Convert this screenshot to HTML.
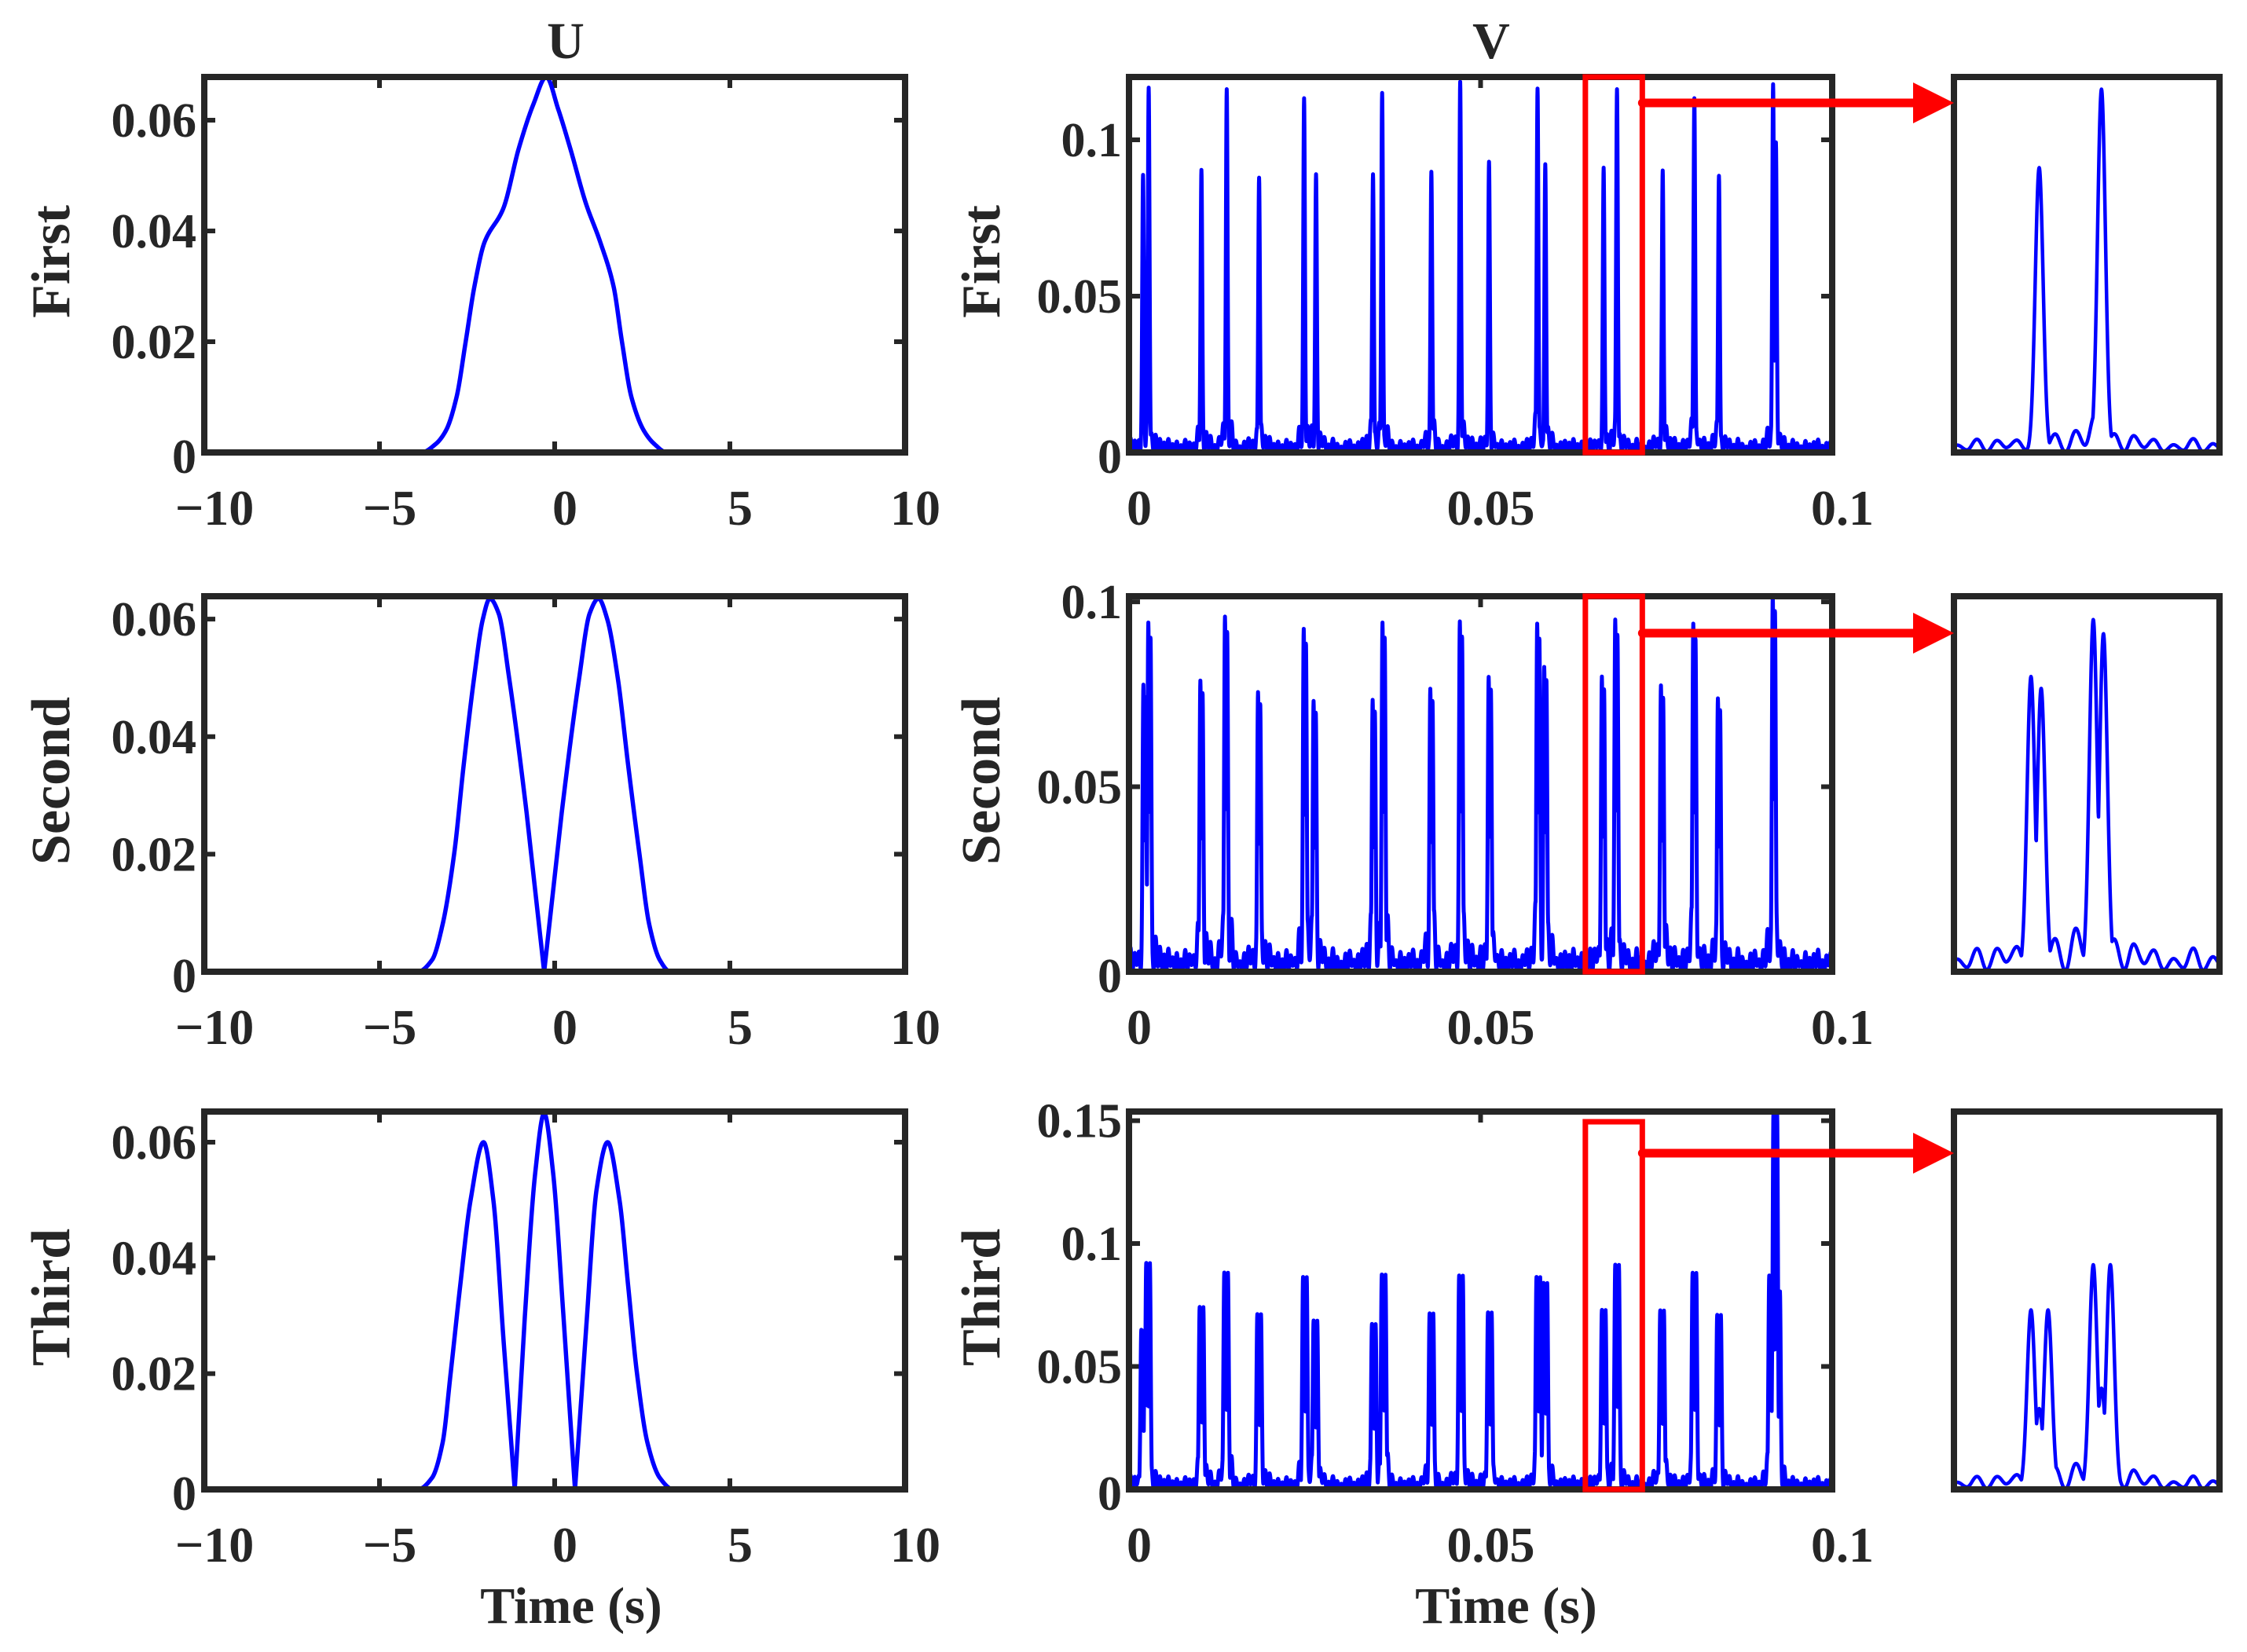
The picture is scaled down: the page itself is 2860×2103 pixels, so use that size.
<!DOCTYPE html>
<html><head><meta charset="utf-8"><style>
html,body{margin:0;padding:0;background:#fff;}
svg{display:block;}
text{font-family:"Liberation Serif",serif;font-weight:bold;fill:#262626;}
</style></head><body>
<svg id="fig" xmlns="http://www.w3.org/2000/svg" width="2860" height="2103" viewBox="0 0 2860 2103">
<rect x="0" y="0" width="2860" height="2103" fill="#fff"/>
<text x="720" y="74" font-size="66" text-anchor="middle">U</text>
<text x="1898" y="74" font-size="66" text-anchor="middle">V</text>
<text x="727" y="2066" font-size="66" text-anchor="middle">Time (s)</text>
<text x="1917" y="2066" font-size="66" text-anchor="middle">Time (s)</text>
<g id="plots"></g>
</svg>
<script>
// ---------- data ----------
const rowNames = ["First","Second","Third"];
const uXTicks = [-10,-5,0,5,10];
const uXTickLabels = ["\u221210","\u22125","0","5","10"];
const uYTicks = [0,0.02,0.04,0.06];
const uYTickLabels = ["0","0.02","0.04","0.06"];
const uYMax = [0.0678,0.0639,0.0653];
// U curves (x, value)
const u1X = [-10,-3.8,-3.4,-3.1,-2.8,-2.54,-2.29,-2.0,-1.47,-1.02,-0.6,-0.24,0.1,0.44,0.89,1.3,1.68,1.92,2.19,2.54,2.85,3.2,10];
const u1Y = [0,0,0.0015,0.004,0.01,0.02,0.03,0.038,0.044,0.055,0.063,0.0678,0.062,0.055,0.045,0.038,0.03,0.02,0.01,0.004,0.0015,0,0];
const u2X = [-10,-3.9,-3.5,-3.2,-2.87,-2.6,-2.3,-2.05,-1.85,-1.6,-1.3,-0.8,-0.3,0.2,0.7,1.0,1.25,1.5,1.8,2.1,2.42,2.7,3.0,3.3,10];
const u2Y = [0,0,0.002,0.008,0.02,0.035,0.05,0.06,0.0635,0.061,0.05,0.027,0,0.027,0.05,0.061,0.0635,0.06,0.05,0.035,0.02,0.008,0.002,0,0];
const u3X = [-10,-3.9,-3.5,-3.2,-2.97,-2.7,-2.4,-2.03,-1.75,-1.45,-1.14,-0.85,-0.55,-0.3,-0.05,0.25,0.58,0.9,1.2,1.51,1.85,2.1,2.35,2.65,3.0,3.38,10];
const u3Y = [0,0,0.002,0.008,0.02,0.035,0.05,0.06,0.05,0.025,0,0.03,0.055,0.065,0.055,0.03,0,0.028,0.052,0.06,0.05,0.035,0.02,0.008,0.002,0,0];

const vXTicks = [0,0.05,0.1];
const vXTickLabels = ["0","0.05","0.1"];
const vYTicks1 = [0,0.05,0.1];
const vYTickLabels1 = ["0","0.05","0.1"];
const vYTicks3 = [0,0.05,0.1,0.15];
const vYTickLabels3 = ["0","0.05","0.1","0.15"];
const vYMax = [0.1201,0.1015,0.1537];
// spike centers and heights
const v1T = [0.0020,0.0028,0.0103,0.0139,0.0185,0.0249,0.0266,0.0347,0.0360,0.0430,0.0471,0.0512,0.0581,0.0592,0.0675,0.0694,0.0759,0.0804,0.0839,0.0916,0.0920];
const v1A = [0.0888,0.1167,0.0904,0.1162,0.0879,0.1133,0.0890,0.0890,0.1150,0.0898,0.1186,0.0930,0.1164,0.0922,0.0911,0.1162,0.0902,0.1133,0.0885,0.1178,0.0992];
const v2T = [0.0022,0.0029,0.0103,0.0138,0.0185,0.0250,0.0264,0.0348,0.0362,0.0430,0.0472,0.0513,0.0582,0.0592,0.0674,0.0693,0.0758,0.0804,0.0839,0.0917];
const v2A = [0.0776,0.0944,0.0787,0.0960,0.0756,0.0927,0.0732,0.0735,0.0944,0.0765,0.0947,0.0797,0.0941,0.0824,0.0798,0.0952,0.0774,0.0941,0.0739,0.1019];
const v3T = [0.0020,0.0027,0.0103,0.0138,0.0185,0.0250,0.0265,0.0348,0.0362,0.0430,0.0472,0.0513,0.0582,0.0592,0.0675,0.0694,0.0758,0.0804,0.0839,0.0913,0.0919,0.0923];
const v3A = [0.0649,0.0921,0.0742,0.0882,0.0713,0.0864,0.0687,0.0673,0.0874,0.0716,0.0870,0.0720,0.0864,0.0840,0.0730,0.0914,0.0728,0.0881,0.0710,0.0870,0.1537,0.0806];
// lobe structure per row (offsets in s, relative amplitudes)
const lobeOff1 = [0];
const lobeAmp1 = [1];
const lobeOff2 = [-0.00015,0.00016];
const lobeAmp2 = [1,0.96];
const lobeOff3 = [-0.00025,0,0.00027];
const lobeAmp3 = [1,0.45,1];
// measured background ripple (sample spacing 0.0003 s, cycled)
const floorVals = [0.0042,0.0008,0.0035,0.0002,0.0048,0.0012,0.0030,0.0005,0.0039,0.0001,0.0026,0.0009,0.0045,0.0003,0.0033,0.0011,0.0022,0.0004,0.0041,0.0007,0.0029,0.0001,0.0037,0.0010,0.0046,0.0006,0.0024,0.0002,0.0034,0.0013,0.0040,0.0004,0.0027,0.0008,0.0049,0.0003,0.0031,0.0009,0.0021,0.0001,0.0038,0.0006,0.0044,0.0012,0.0025,0.0002,0.0036,0.0007];
const floorScale = [0.9,1.3,1.1];
const skirtScale = [0.08,0.16,0.18];
const zoomRange = [0.0649,0.0730];

// ---------- layout ----------
const NS = "http://www.w3.org/2000/svg";
const plots = document.getElementById("plots");
const rowsY = [[98,576],[759,1237],[1415,1896]];
const uBoxX = [260,1152];
const vBoxX = [1437,2332];
const vXRange = [0,0.1];
const insetX = [2487,2825];
const DARK = "#262626";
const LBL_SHIFT = 13;

function mk(tag, attrs, parent){
  const e = document.createElementNS(NS, tag);
  for (const k in attrs) e.setAttribute(k, attrs[k]);
  (parent||plots).appendChild(e);
  return e;
}
function curvePath(xs, ys, sx, sy){
  const n = xs.length;
  const sec = [];
  for (let i=0;i<n-1;i++) sec.push((ys[i+1]-ys[i])/(xs[i+1]-xs[i]));
  const m = [];
  for (let i=0;i<n;i++){
    if (i===0) m.push(sec[0]);
    else if (i===n-1) m.push(sec[n-2]);
    else if (sec[i-1]*sec[i]<=0) m.push(0);
    else { const a=sec[i-1], b=sec[i]; m.push(2*a*b/(a+b)); }
  }
  const isVZero = i => i>0 && i<n-1 && ys[i]===0 && ys[i-1]>0 && ys[i+1]>0;
  let d = "M"+sx(xs[0]).toFixed(2)+","+sy(ys[0]).toFixed(2);
  for (let i=0;i<n-1;i++){
    const h = xs[i+1]-xs[i];
    const linear = isVZero(i) || isVZero(i+1);
    const steps = 20;
    for (let k=1;k<=steps;k++){
      const t=k/steps; let y;
      if (linear) y = ys[i]+(ys[i+1]-ys[i])*t;
      else {
        const t2=t*t,t3=t2*t;
        y = (2*t3-3*t2+1)*ys[i]+(t3-2*t2+t)*h*m[i]+(-2*t3+3*t2)*ys[i+1]+(t3-t2)*h*m[i+1];
      }
      if (y<0) y=0;
      d += "L"+sx(xs[i]+h*t).toFixed(2)+","+sy(y).toFixed(2);
    }
  }
  return d;
}
function floorAt(t){
  const u = (t+0.01)/0.0003;
  const i = Math.floor(u), f = u-i;
  const n = floorVals.length;
  const a = floorVals[((i%n)+n)%n], b = floorVals[(((i+1)%n)+n)%n];
  const s = (1-Math.cos(Math.PI*f))/2;
  return a+(b-a)*s;
}
function vSignal(t, T, A, offs, amps, r){
  const sig = 0.00012;
  let s = 0, sk = 0;
  for (let e=0;e<T.length;e++){
    const dt = t-T[e];
    if (Math.abs(dt)>0.004) continue;
    for (let l=0;l<offs.length;l++){
      const z=(dt-offs[l])/sig;
      s = Math.max(s, A[e]*amps[l]*Math.exp(-0.5*z*z));
    }
    const zz = dt/0.0007;
    sk = Math.max(sk, A[e]*Math.exp(-0.5*zz*zz));
  }
  const fl = floorAt(t);
  const base = fl*floorScale[r] + skirtScale[r]*sk*(fl/0.005);
  return Math.max(s, base);
}
function frame(x0,x1,y0,y1,name){
  mk("rect",{x:x0,y:y0,width:x1-x0,height:y1-y0,fill:"none",stroke:DARK,"stroke-width":8,});
}
let clipId = 0;
function clip(x0,x1,y0,y1){
  const id = "c"+(clipId++);
  const cp = mk("clipPath",{id:id});
  mk("rect",{x:x0,y:y0,width:x1-x0,height:y1-y0},cp);
  return "url(#"+id+")";
}

for (let r=0;r<3;r++){
  const [yt,yb] = rowsY[r];
  // ----- U plot -----
  const ux = v => uBoxX[0] + (v+10)/20*(uBoxX[1]-uBoxX[0]);
  const uy = v => yb - v/uYMax[r]*(yb-yt);
  const ug = mk("g",{});
  
  
  for (let i=0;i<uXTicks.length;i++){
    const x=ux(uXTicks[i]);
    const tk = mk("path",{d:`M${x},${yb}v-14M${x},${yt}v14`,stroke:DARK,"stroke-width":6},ug);
    
    
    const tl = mk("text",{x:x+LBL_SHIFT,y:yb+92,"font-size":64,"text-anchor":"middle"},ug);
    tl.textContent = uXTickLabels[i];
    
    
  }
  for (let i=0;i<uYTicks.length;i++){
    const y=uy(uYTicks[i]);
    const tk = mk("path",{d:`M${uBoxX[0]},${y}h14M${uBoxX[1]},${y}h-14`,stroke:DARK,"stroke-width":6},ug);
    
    
    const tl = mk("text",{x:250,y:y+(i===0?26:21),"font-size":62,"text-anchor":"end"},ug);
    tl.textContent = uYTickLabels[i];
    
    
  }
  frame(uBoxX[0],uBoxX[1],yt,yb,"u-axes-frame");
  const xs = [u1X,u2X,u3X][r], ys=[u1Y,u2Y,u3Y][r];
  const up = mk("path",{d:curvePath(xs,ys,ux,uy),fill:"none",stroke:"#0000ff","stroke-width":5.5,"stroke-linejoin":"round"},ug);
  
  
  const cy = (yt+yb)/2;
  const yl = mk("text",{x:0,y:0,"font-size":70,"text-anchor":"middle",transform:`translate(88,${cy-4}) rotate(-90)`});
  yl.textContent = rowNames[r];
  
  

  // ----- V plot -----
  const T=[v1T,v2T,v3T][r], A=[v1A,v2A,v3A][r];
  const offs=[lobeOff1,lobeOff2,lobeOff3][r], amps=[lobeAmp1,lobeAmp2,lobeAmp3][r];
  const vx = v => vBoxX[0] + (v-vXRange[0])/(vXRange[1]-vXRange[0])*(vBoxX[1]-vBoxX[0]);
  const vy = v => yb - v/vYMax[r]*(yb-yt);
  const vg = mk("g",{});
  
  
  for (let i=0;i<vXTicks.length;i++){
    const x=vx(vXTicks[i]);
    const tk = mk("path",{d:`M${x},${yb}v-14M${x},${yt}v14`,stroke:DARK,"stroke-width":6},vg);
    
    
    const tl = mk("text",{x:x+LBL_SHIFT,y:yb+92,"font-size":64,"text-anchor":"middle"},vg);
    tl.textContent = vXTickLabels[i];
    
    
  }
  const yT = r===2?vYTicks3:vYTicks1, yL = r===2?vYTickLabels3:vYTickLabels1;
  for (let i=0;i<yT.length;i++){
    const y=vy(yT[i]);
    const tk = mk("path",{d:`M${vBoxX[0]},${y}h14M${vBoxX[1]},${y}h-14`,stroke:DARK,"stroke-width":6},vg);
    
    
    const tl = mk("text",{x:1428,y:y+(i===0?26:21),"font-size":62,"text-anchor":"end"},vg);
    tl.textContent = yL[i];
    
    
  }
  frame(vBoxX[0],vBoxX[1],yt,yb,"v-axes-frame");
  let d="";
  const N=4000;
  for (let k=0;k<=N;k++){
    const t = vXRange[0]+(vXRange[1]-vXRange[0])*k/N;
    d += (k?"L":"M")+vx(t).toFixed(2)+","+vy(vSignal(t,T,A,offs,amps,r)).toFixed(2);
  }
  const vp = mk("path",{d:d,fill:"none",stroke:"#0000ff","stroke-width":5,"stroke-linejoin":"round","clip-path":clip(vBoxX[0],vBoxX[1],yt-3,yb+3)},vg);
  
  
  const vyl = mk("text",{x:0,y:0,"font-size":70,"text-anchor":"middle",transform:`translate(1272,${cy-4}) rotate(-90)`});
  vyl.textContent = rowNames[r];
  
  

  // ----- inset -----
  const ix = v => insetX[0] + (v-zoomRange[0])/(zoomRange[1]-zoomRange[0])*(insetX[1]-insetX[0]);
  const ig = mk("g",{});
  
  
  frame(insetX[0],insetX[1],yt,yb,"inset-frame");
  let di="";
  const M=900;
  for (let k=0;k<=M;k++){
    const t = zoomRange[0]+(zoomRange[1]-zoomRange[0])*k/M;
    di += (k?"L":"M")+ix(t).toFixed(2)+","+vy(vSignal(t,T,A,offs,amps,r)).toFixed(2);
  }
  const ip = mk("path",{d:di,fill:"none",stroke:"#0000ff","stroke-width":4.5,"stroke-linejoin":"round","clip-path":clip(insetX[0],insetX[1],yt,yb+3)},ig);
  
  

  // ----- red zoom box + arrow -----
  const bx0 = vx(zoomRange[0]), bx1 = vx(zoomRange[1]);
  const byTop = r===2 ? yt+13 : yt;
  const box = mk("rect",{x:bx0,y:byTop,width:bx1-bx0,height:yb-byTop,fill:"none",stroke:"#ff0000","stroke-width":7});
  
  
  const ay = [131,806,1468][r];
  const arrow = mk("g",{});
  
  
  mk("line",{x1:bx1,y1:ay,x2:insetX[0]-50,y2:ay,stroke:"#ff0000","stroke-width":11,"stroke-linecap":"round"},arrow);
  mk("polygon",{points:`${insetX[0]-52},${ay-26} ${insetX[0]},${ay} ${insetX[0]-52},${ay+26}`,fill:"#ff0000"},arrow);
}
</script>
</body></html>
